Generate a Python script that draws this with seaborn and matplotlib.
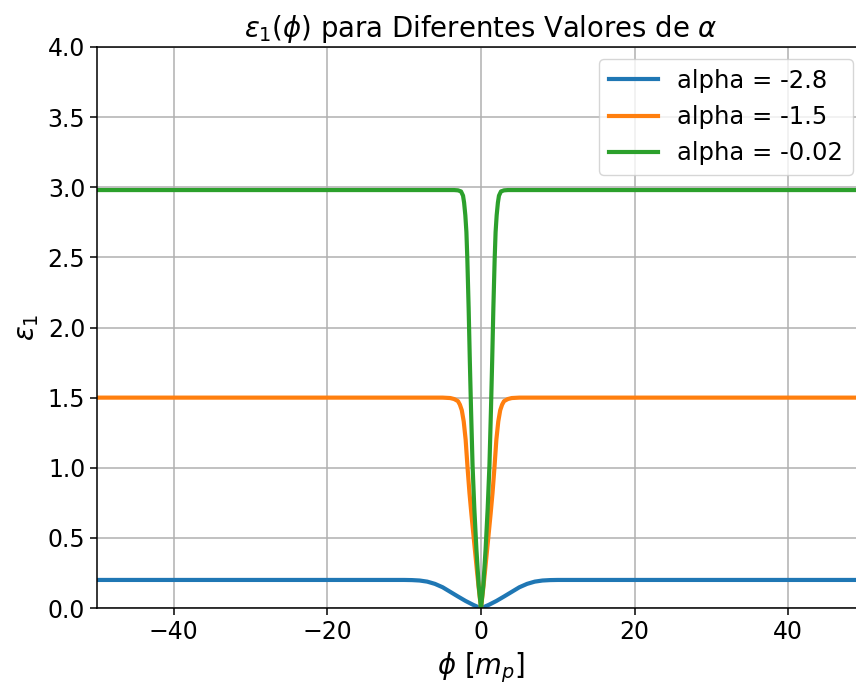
import matplotlib
matplotlib.use("Agg")
import matplotlib.pyplot as plt
import seaborn as sns
import pandas as pd

# ---- data ----
alpha_labels = ["alpha = -2.8", "alpha = -1.5", "alpha = -0.02"]

phi_blue = [-50, -10, -9, -8, -7, -6, -5, -4, -3, -2, -1, -0.3, 0,
            0.3, 1, 2, 3, 4, 5, 6, 7, 8, 9, 10, 50]
eps_blue = [0.2, 0.2, 0.199, 0.196, 0.188, 0.172, 0.148, 0.115, 0.082, 0.05, 0.022, 0.005, 0.0,
            0.005, 0.022, 0.05, 0.082, 0.115, 0.148, 0.172, 0.188, 0.196, 0.199, 0.2, 0.2]

phi_orange = [-50, -5, -4, -3.5, -3.0, -2.75, -2.5, -2.25, -2.0, -1.75, -1.5, -1.25, -1.0, -0.75, -0.5, -0.25, 0,
              0.25, 0.5, 0.75, 1.0, 1.25, 1.5, 1.75, 2.0, 2.25, 2.5, 2.75, 3.0, 3.5, 4, 5, 50]
eps_orange = [1.5, 1.5, 1.497, 1.49, 1.475, 1.45, 1.41, 1.33, 1.2, 1.0, 0.82, 0.67, 0.53, 0.39, 0.25, 0.12, 0.0,
              0.12, 0.25, 0.39, 0.53, 0.67, 0.82, 1.0, 1.2, 1.33, 1.41, 1.45, 1.475, 1.49, 1.497, 1.5, 1.5]

phi_green = [-50, -3.5, -3.0, -2.6, -2.34, -2.2, -2.04, -1.9, -1.78, -1.61, -1.45, -1.3, -1.1, -0.87, -0.6, -0.3, 0,
             0.3, 0.6, 0.87, 1.1, 1.3, 1.45, 1.61, 1.78, 1.9, 2.04, 2.2, 2.34, 2.6, 3.0, 3.5, 50]
eps_green = [2.98, 2.98, 2.978, 2.97, 2.94, 2.89, 2.80, 2.68, 2.49, 2.14, 1.75, 1.42, 1.02, 0.71, 0.42, 0.16, 0.0,
             0.16, 0.42, 0.71, 1.02, 1.42, 1.75, 2.14, 2.49, 2.68, 2.80, 2.89, 2.94, 2.97, 2.978, 2.98, 2.98]

x_ticks = [-40, -20, 0, 20, 40]
y_ticks = [0.0, 0.5, 1.0, 1.5, 2.0, 2.5, 3.0, 3.5, 4.0]

df = pd.concat([
    pd.DataFrame({"phi": phi_blue, "eps": eps_blue, "serie": alpha_labels[0]}),
    pd.DataFrame({"phi": phi_orange, "eps": eps_orange, "serie": alpha_labels[1]}),
    pd.DataFrame({"phi": phi_green, "eps": eps_green, "serie": alpha_labels[2]}),
], ignore_index=True)

FS = 17
FL = 19.8
fig = plt.figure(figsize=(8.56, 6.84), dpi=100)
ax = fig.add_axes([97 / 856, 76 / 684, (865 - 97) / 856, (608 - 47) / 684])

palette = sns.color_palette("tab10", 3)
sns.lineplot(data=df, x="phi", y="eps", hue="serie", hue_order=alpha_labels,
             palette=palette, linewidth=3.0, sort=False, estimator=None, ax=ax)

ax.set_xlim(-50, 50)
ax.set_ylim(0, 4)
ax.set_xticks(x_ticks)
ax.set_yticks(y_ticks)
ax.grid(True, color="#b0b0b0", linewidth=1.1)
ax.set_axisbelow(True)
ax.tick_params(labelsize=FS, length=5, width=1.1)
for s in ax.spines.values():
    s.set_linewidth(1.1)

ax.set_title(r"$\varepsilon_1(\phi)$ para Diferentes Valores de $\alpha$", fontsize=FL, pad=7)
ax.set_xlabel(r"$\phi\ [m_p]$", fontsize=FL, labelpad=5)
ax.set_ylabel(r"$\varepsilon_1$", fontsize=FL, labelpad=5)

handles, labels = ax.get_legend_handles_labels()
ax.legend(handles, labels, loc="upper right", fontsize=17.5, framealpha=0.8)

fig.savefig("out.png", dpi=100)
